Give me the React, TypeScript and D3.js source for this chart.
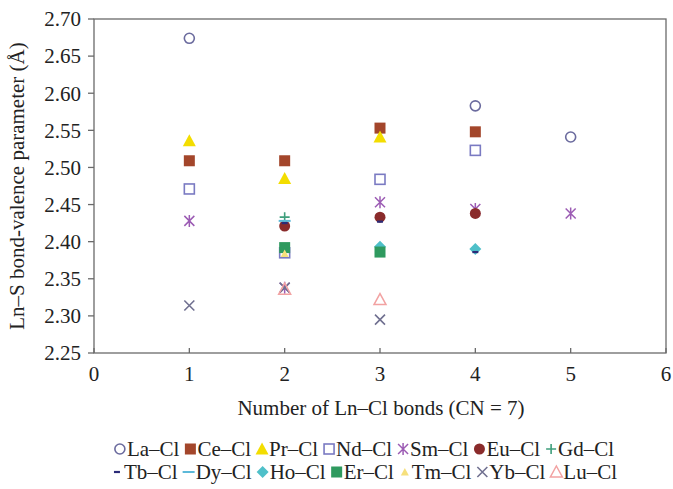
import React, { useEffect, useRef } from "react";
import * as d3 from "d3";

const xTicks = [0, 1, 2, 3, 4, 5, 6];
const yTicks = [2.25, 2.3, 2.35, 2.4, 2.45, 2.5, 2.55, 2.6, 2.65, 2.7];

const seriesNames = ["La–Cl", "Ce–Cl", "Pr–Cl", "Nd–Cl", "Sm–Cl", "Eu–Cl", "Gd–Cl", "Tb–Cl", "Dy–Cl", "Ho–Cl", "Er–Cl", "Tm–Cl", "Yb–Cl", "Lu–Cl"];

const La = [[1, 2.674], [4, 2.583], [5, 2.541]];
const Ce = [[1, 2.509], [2, 2.509], [3, 2.553], [4, 2.548]];
const Pr = [[1, 2.536], [2, 2.485], [3, 2.541]];
const Nd = [[1, 2.471], [2, 2.385], [3, 2.484], [4, 2.523]];
const Sm = [[1, 2.428], [2, 2.338], [3, 2.453], [4, 2.444], [5, 2.438]];
const Eu = [[2, 2.421], [3, 2.433], [4, 2.438]];
const Gd = [[2, 2.433]];
const Tb = [[2, 2.425], [3, 2.427], [4, 2.386]];
const Dy = [[2, 2.428]];
const Ho = [[3, 2.393], [4, 2.39]];
const Er = [[2, 2.392], [3, 2.386]];
const Tm = [[2, 2.384]];
const Yb = [[1, 2.314], [2, 2.338], [3, 2.295]];
const Lu = [[2, 2.336], [3, 2.322]];

const seriesData = [La, Ce, Pr, Nd, Sm, Eu, Gd, Tb, Dy, Ho, Er, Tm, Yb, Lu];
const drawOrder = [0, 1, 2, 3, 4, 5, 6, 8, 9, 10, 11, 12, 13, 7];

type Style = { kind: string; color: string };
const styles: Style[] = [
  { kind: "circleOpen", color: "#6b6b9e" },
  { kind: "squareFill", color: "#a3462b" },
  { kind: "triFill", color: "#f3dd00" },
  { kind: "squareOpen", color: "#7a7ac2" },
  { kind: "asterisk", color: "#9c5cb4" },
  { kind: "circleFill", color: "#8a2b2b" },
  { kind: "plus", color: "#3f9f7c" },
  { kind: "dashShort", color: "#2b2b78" },
  { kind: "dash", color: "#5cb9d9" },
  { kind: "diamond", color: "#4fc0c9" },
  { kind: "squareFill", color: "#2f9a5f" },
  { kind: "triSmall", color: "#f6e07c" },
  { kind: "cross", color: "#707090" },
  { kind: "triOpen", color: "#f2a2a2" },
];

const FONT = "Liberation Serif";

function drawMarker(g: any, kind: string, color: string, cx: number, cy: number) {
  const s = g.append("g").attr("transform", `translate(${cx},${cy})`);
  switch (kind) {
    case "circleOpen":
      s.append("circle").attr("r", 5).attr("fill", "white").attr("stroke", color).attr("stroke-width", 1.6);
      break;
    case "circleFill":
      s.append("circle").attr("r", 5.5).attr("fill", color);
      break;
    case "squareFill":
      s.append("rect").attr("x", -5.5).attr("y", -5.5).attr("width", 11).attr("height", 11).attr("fill", color);
      break;
    case "squareOpen":
      s.append("rect").attr("x", -5).attr("y", -5).attr("width", 10).attr("height", 10).attr("fill", "white").attr("stroke", color).attr("stroke-width", 1.6);
      break;
    case "triFill":
      s.append("path").attr("d", "M0,-6.5L6.5,5.5L-6.5,5.5Z").attr("fill", color);
      break;
    case "triSmall":
      s.append("path").attr("d", "M0,-4L4,3.5L-4,3.5Z").attr("fill", color);
      break;
    case "triOpen":
      s.append("path").attr("d", "M0,-6L6,5L-6,5Z").attr("fill", "none").attr("stroke", color).attr("stroke-width", 1.5);
      break;
    case "diamond":
      s.append("path").attr("d", "M0,-6L6,0L0,6L-6,0Z").attr("fill", color);
      break;
    case "plus":
      s.append("path").attr("d", "M-5,0H5M0,-5V5").attr("stroke", color).attr("stroke-width", 1.6);
      break;
    case "cross":
      s.append("path").attr("d", "M-5,-5L5,5M-5,5L5,-5").attr("stroke", color).attr("stroke-width", 1.6);
      break;
    case "asterisk":
      s.append("path").attr("d", "M-5,-5L5,5M-5,5L5,-5M0,-6V6").attr("stroke", color).attr("stroke-width", 1.5);
      break;
    case "dash":
      s.append("path").attr("d", "M-6,0H6").attr("stroke", color).attr("stroke-width", 2);
      break;
    case "dashShort":
      s.append("path").attr("d", "M-3,0H3").attr("stroke", color).attr("stroke-width", 2.2);
      break;
  }
}

export default function App() {
  const ref = useRef<SVGSVGElement | null>(null);

  useEffect(() => {
    const svg = d3.select(ref.current);
    svg.selectAll("*").remove();
    const W = 673, H = 489;
    const left = 94, right = 666, top = 19, bottom = 353;
    const x = d3.scaleLinear().domain([0, 6]).range([left, right]);
    const y = d3.scaleLinear().domain([2.25, 2.7]).range([bottom, top]);

    svg.append("rect").attr("width", W).attr("height", H).attr("fill", "white");

    svg.append("rect").attr("x", left).attr("y", top).attr("width", right - left).attr("height", bottom - top)
      .attr("fill", "none").attr("stroke", "#6a6a6a").attr("stroke-width", 1.3);

    const txt = (sel: any, size: number) =>
      sel.style("font-family", FONT).attr("font-size", size).attr("fill", "#222");

    const yg = svg.append("g");
    yTicks.forEach((t) => {
      yg.append("line").attr("x1", left - 6).attr("x2", left).attr("y1", y(t)).attr("y2", y(t)).attr("stroke", "#6a6a6a").attr("stroke-width", 1.3);
      txt(yg.append("text").attr("x", left - 13).attr("y", y(t)).attr("dy", "0.35em").attr("text-anchor", "end"), 21)
        .text(d3.format(".2f")(t));
    });

    const xg = svg.append("g");
    xTicks.forEach((t) => {
      xg.append("line").attr("x1", x(t)).attr("x2", x(t)).attr("y1", bottom).attr("y2", bottom - 5).attr("stroke", "#6a6a6a").attr("stroke-width", 1.3);
      txt(xg.append("text").attr("x", x(t)).attr("y", 381).attr("text-anchor", "middle"), 21).text(String(t));
    });

    txt(svg.append("text").attr("x", 381).attr("y", 415).attr("text-anchor", "middle"), 21)
      .text("Number of Ln–Cl bonds (CN = 7)");
    txt(svg.append("text").attr("transform", `translate(24,${(top + bottom) / 2}) rotate(-90)`).attr("text-anchor", "middle"), 21)
      .text("Ln–S bond-valence parameter (Å)");

    const pg = svg.append("g");
    drawOrder.forEach((i) => {
      seriesData[i].forEach(([vx, vy]) => drawMarker(pg, styles[i].kind, styles[i].color, x(vx), y(vy)));
    });

    const rows = [[0, 1, 2, 3, 4, 5, 6], [7, 8, 9, 10, 11, 12, 13]];
    const rowY = [449, 472];
    const centerX = 364;
    rows.forEach((row, ri) => {
      const lg = svg.append("g");
      let cursor = 0;
      row.forEach((i) => {
        drawMarker(lg, styles[i].kind, styles[i].color, cursor + 6, rowY[ri]);
        const t = txt(lg.append("text").attr("x", cursor + 13).attr("y", rowY[ri]).attr("dy", "0.35em"), 21)
          .text(seriesNames[i]);
        const w = (t.node() as SVGTextElement).getComputedTextLength();
        cursor += 13 + w + 5;
      });
      const total = cursor - 5;
      lg.attr("transform", `translate(${centerX - total / 2},0)`);
    });
  }, []);

  return (
    <svg ref={ref} width={673} height={489} style={{ position: "absolute", left: 0, top: 0, display: "block" }} />
  );
}
